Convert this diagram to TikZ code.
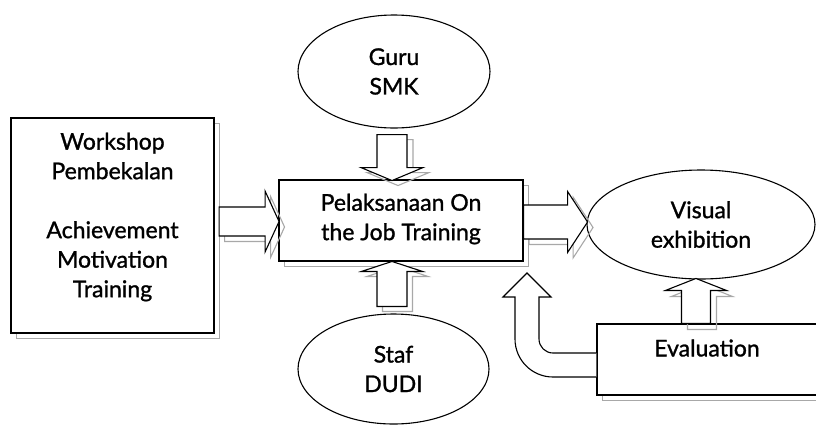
\documentclass[tikz,border=0pt]{standalone}
\usepackage{fontspec}
\setmainfont{Lato}[FakeBold=1.2]
\usetikzlibrary{shapes.geometric,calc}
\definecolor{shade}{HTML}{A8A8A8}
\tikzset{
  every node/.style={font=\fontsize{23}{29.5}\selectfont, align=center},
  base/.style={draw=black, line width=1.1pt, fill=white},
  shad/.style={draw=shade, line width=1.1pt},
  box/.style={base, rectangle, inner sep=0pt},
  boxshadow/.style={box, preaction={draw=shade, line width=1.1pt, transform canvas={xshift=5.5pt,yshift=-5.5pt}}},
  oval/.style={base, ellipse, inner sep=0pt},
  pics/barrow/.style n args={4}{code={
    \path[pic actions] (0,-#2) -- ({#1-#4},-#2) -- ({#1-#4},-#3) -- (#1,0)
      -- ({#1-#4},#3) -- ({#1-#4},#2) -- (0,#2) -- cycle;
  }}
}
\begin{document}
\begin{tikzpicture}[x=1pt,y=-1pt]
\useasboundingbox (0,0) rectangle (816,426);

% boxes
\node[boxshadow, minimum width=203pt, minimum height=215pt] (ws) at (112.5,225.5) {};
\node (wstext) at (112.5,217) {Workshop\\Pembekalan\\[29.5pt]Achievement\\Motivation\\Training};

\node[boxshadow, minimum width=244pt, minimum height=81pt] (ojt) at (401,220.5) {};
\node (ojttext) at (401,219) {Pelaksanaan On\\the Job Training};

% ellipses
\node[oval, minimum width=192pt, minimum height=113pt] (guru) at (394,71.5) {Guru\\SMK};
\node[oval, minimum width=191pt, minimum height=110pt] (staf) at (393.5,369) {Staf\\DUDI};
\node[oval, minimum width=228pt, minimum height=109pt] (vis) at (701,224.5) {Visual\\exhibition};

% evaluation box (runs past the right edge)
\node[boxshadow, minimum width=233pt, minimum height=71pt] (ev) at (713.5,359.5) {};
\node (evtext) at (707,348) {Evaluation};

% block arrows: shadows first
\pic[shad] at ($(ws.east)+(4.5+5.5,-4+5.5)$) {barrow={60}{14.5}{30.5}{14}};
\pic[base] at ($(ws.east)+(4.5,-4)$) {barrow={60}{14.5}{30.5}{14}};

\pic[shad, rotate=-90] at ($(guru.south)+(-2+6,6+5)$) {barrow={46}{15}{31}{13}};
\pic[base, rotate=-90] at ($(guru.south)+(-2,6)$) {barrow={46}{15}{31}{13}};

\pic[shad, rotate=90] at ($(staf.north)+(-1.5+5.5,-7+5)$) {barrow={45}{15}{30.5}{10}};
\pic[base, rotate=90] at ($(staf.north)+(-1.5,-7)$) {barrow={45}{15}{30.5}{10}};

\pic[shad] at ($(ojt.east)+(5.5,1.5+5.5)$) {barrow={64}{17}{30.5}{20}};
\pic[base] at ($(ojt.east)+(0,1.5)$) {barrow={64}{17}{30.5}{20}};

\pic[shad, rotate=90] at ($(ev.north west)+(99.5+6,6)$) {barrow={45}{14.5}{30.5}{12}};
\pic[base, rotate=90] at ($(ev.north west)+(99.5,0)$) {barrow={45}{14.5}{30.5}{12}};

% U-turn arrow from Evaluation back to the training box
\draw[base] (ev.west |- 0,353) -- (553,353) arc[start angle=270, end angle=180, radius=14pt]
  -- (539,297) -- (551,297) -- (527,273) -- (503,297) -- (515,297) -- (515,339)
  arc[start angle=180, end angle=270, radius=38pt] -- (ev.west |- 0,377);
\end{tikzpicture}
\end{document}
